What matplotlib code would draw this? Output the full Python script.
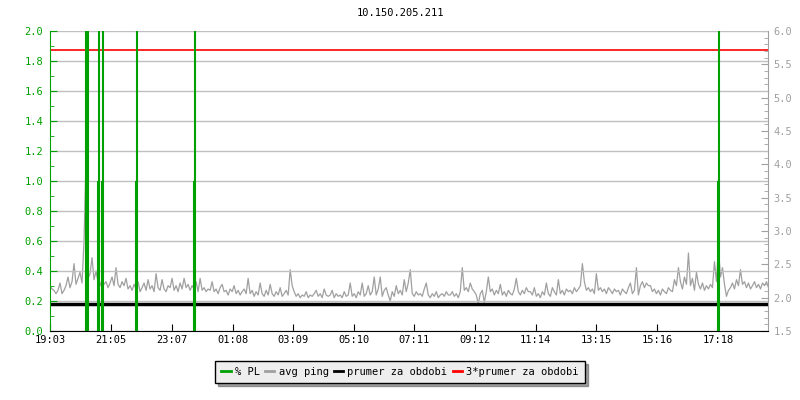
import numpy as np
import matplotlib
matplotlib.use('Agg')
import matplotlib.pyplot as plt
from matplotlib.ticker import MultipleLocator

title = '10.150.205.211'
time_labels = ['19:03', '21:05', '23:07', '01:08', '03:09', '05:10',
               '07:11', '09:12', '11:14', '13:15', '15:16', '17:18']
span_min = 1435  # minutes shown on the x axis
step_min = 4     # sampling step of the ping series

# avg ping [ms], one value every 4 minutes from 19:03
ping = [
    2.18,2.13,2.11,2.06,2.11,2.22,2.06,2.11,2.18,2.31,2.15,2.24,2.51,2.20,2.29,2.38,2.22,2.85,4.07,2.29,
    2.36,2.60,2.27,2.40,2.24,2.18,2.27,2.20,2.24,2.15,2.22,2.31,2.18,2.45,2.20,2.15,2.24,2.18,2.29,2.13,
    2.18,2.11,2.20,2.13,2.24,2.09,2.15,2.22,2.11,2.27,2.13,2.18,2.09,2.36,2.15,2.11,2.27,2.13,2.09,2.18,
    2.15,2.29,2.11,2.18,2.09,2.22,2.13,2.29,2.15,2.20,2.11,2.18,2.13,2.24,2.09,2.29,2.11,2.15,2.09,2.13,
    2.11,2.24,2.09,2.13,2.06,2.15,2.20,2.09,2.11,2.04,2.13,2.09,2.18,2.06,2.11,2.04,2.09,2.13,2.06,2.29,
    2.06,2.11,2.02,2.09,2.04,2.22,2.06,2.02,2.11,2.04,2.20,2.06,2.02,2.09,2.04,2.15,2.02,2.06,2.11,2.04,
    2.42,2.18,2.09,2.02,2.06,2.00,2.04,2.02,2.09,2.00,2.04,2.02,2.06,2.11,2.02,2.06,2.00,2.13,2.04,2.02,
    2.04,2.11,2.00,2.06,2.02,2.04,2.00,2.09,2.02,2.04,2.22,2.02,2.06,2.00,2.09,2.04,2.22,2.02,2.06,2.18,
    2.04,2.09,2.31,2.04,2.13,2.31,2.02,2.11,2.15,2.04,1.95,2.09,2.02,2.18,2.06,2.11,2.04,2.27,2.09,2.22,
    2.42,2.06,2.02,2.09,2.04,2.06,2.02,2.13,2.22,2.04,2.00,2.06,2.02,2.09,2.00,2.04,2.06,2.02,2.09,2.04,
    2.04,2.09,2.02,2.06,2.00,2.09,2.45,2.11,2.15,2.09,2.22,2.13,2.09,2.04,1.91,2.06,2.11,1.93,2.09,2.31,
    2.09,2.13,2.04,2.11,2.06,2.20,2.04,2.09,2.02,2.11,2.06,2.04,2.13,2.29,2.09,2.04,2.11,2.06,2.15,2.09,
    2.09,2.04,2.15,2.02,2.06,2.00,2.09,2.04,2.22,2.06,2.02,2.15,2.09,2.04,2.27,2.06,2.11,2.04,2.13,2.09,
    2.11,2.06,2.15,2.09,2.13,2.18,2.51,2.24,2.11,2.15,2.09,2.13,2.06,2.36,2.11,2.15,2.09,2.13,2.06,2.15,
    2.11,2.06,2.13,2.09,2.11,2.04,2.13,2.09,2.06,2.15,2.22,2.06,2.11,2.45,2.04,2.18,2.24,2.15,2.22,2.18,
    2.18,2.09,2.13,2.06,2.11,2.04,2.13,2.09,2.06,2.15,2.11,2.09,2.27,2.18,2.45,2.24,2.13,2.31,2.20,2.67,
    2.18,2.29,2.11,2.38,2.20,2.13,2.22,2.11,2.18,2.13,2.20,2.15,2.54,2.24,2.74,2.31,2.45,2.20,2.02,2.11,
    2.15,2.22,2.13,2.27,2.18,2.42,2.20,2.24,2.15,2.22,2.13,2.18,2.24,2.15,2.20,2.13,2.22,2.18,2.24,2.15,
]

# packet loss events [% PL] (minutes after 19:03)
pl_min = [71, 73, 75, 96, 97, 104, 105, 172, 173, 288, 289, 1336, 1337]
pl_val = [20, 20, 20, 1, 20, 1, 20, 1, 20, 1, 20, 1, 20]

avg_ms = 1.905        # prumer za obdobi
avg3_ms = 3 * avg_ms  # 3*prumer za obdobi

green = '#00a000'
gray = '#a0a0a0'
mono = 'DejaVu Sans Mono'
fs = 7.5

def to_min(s):
    h, m = map(int, s.split(':'))
    return ((h * 60 + m) - (19 * 60 + 3)) % 1440

fig = plt.figure(figsize=(8, 4), dpi=100)
ax = fig.add_axes([50 / 800, 1 - 331 / 400, 718 / 800, 300 / 400])
ax2 = ax.twinx()

t = np.arange(len(ping)) * step_min
ax2.plot(t, ping, color=gray, lw=0.9, label='avg ping', zorder=2)
ax2.axhline(avg_ms, color='black', lw=2.5, label='prumer za obdobi', zorder=3)
ax2.axhline(avg3_ms, color='red', lw=1.2, label='3*prumer za obdobi', zorder=3)
ax.vlines(pl_min, 0, pl_val, color=green, lw=1.5, zorder=4)

ax.set_zorder(ax2.get_zorder() + 1)
ax.patch.set_visible(False)

ax.set_xlim(0, span_min)
ax.set_ylim(0, 2)
ax2.set_ylim(1.5, 6.0)

ax.set_xticks([to_min(s) for s in time_labels])
ax.set_xticklabels(time_labels, fontfamily=mono, fontsize=fs)
ax.yaxis.set_major_locator(MultipleLocator(0.2))
ax.yaxis.set_minor_locator(MultipleLocator(0.1))
ax.set_yticklabels([f'{v:.1f}' for v in ax.get_yticks()], fontfamily=mono, fontsize=fs, color=green)
ax2.yaxis.set_major_locator(MultipleLocator(0.5))
ax2.yaxis.set_minor_locator(MultipleLocator(0.1))
ax2.set_yticklabels([f'{v:.1f}' for v in ax2.get_yticks()], fontfamily=mono, fontsize=fs, color=gray)

ax.grid(axis='y', color='#c0c0c0', lw=1)
ax.tick_params(axis='x', direction='in', length=5, colors='black', pad=3)
ax.tick_params(axis='y', which='both', direction='in', colors=green, pad=5)
ax.tick_params(axis='y', which='major', length=5)
ax.tick_params(axis='y', which='minor', length=3)
ax2.tick_params(axis='y', which='both', direction='in', colors=gray, pad=4)
ax2.tick_params(axis='y', which='major', length=5)
ax2.tick_params(axis='y', which='minor', length=3)

for a in (ax, ax2):
    a.spines['top'].set_visible(False)
ax.spines['left'].set_color(green)
ax.spines['right'].set_visible(False)
ax2.spines['left'].set_visible(False)
ax2.spines['right'].set_color(gray)
ax.spines['bottom'].set_color('black')
ax2.spines['bottom'].set_visible(False)

fig.text(0.5, 1 - 13 / 400, title, ha='center', va='center', fontfamily=mono, fontsize=fs)

handles = [plt.Line2D([], [], color=green, lw=2),
           plt.Line2D([], [], color=gray, lw=2),
           plt.Line2D([], [], color='black', lw=2),
           plt.Line2D([], [], color='red', lw=2)]
names = ['% PL', 'avg ping', 'prumer za obdobi', '3*prumer za obdobi']
leg = fig.legend(handles, names, loc='center', bbox_to_anchor=(0.5, 1 - 372 / 400), ncol=4,
                 prop={'family': mono, 'size': fs}, frameon=True, fancybox=False, shadow=True,
                 handlelength=0.9, handletextpad=0.4, columnspacing=0.5, borderpad=0.6)
leg.get_frame().set_facecolor('#eeeeee')
leg.get_frame().set_edgecolor('black')

fig.savefig('out.png', dpi=100)
